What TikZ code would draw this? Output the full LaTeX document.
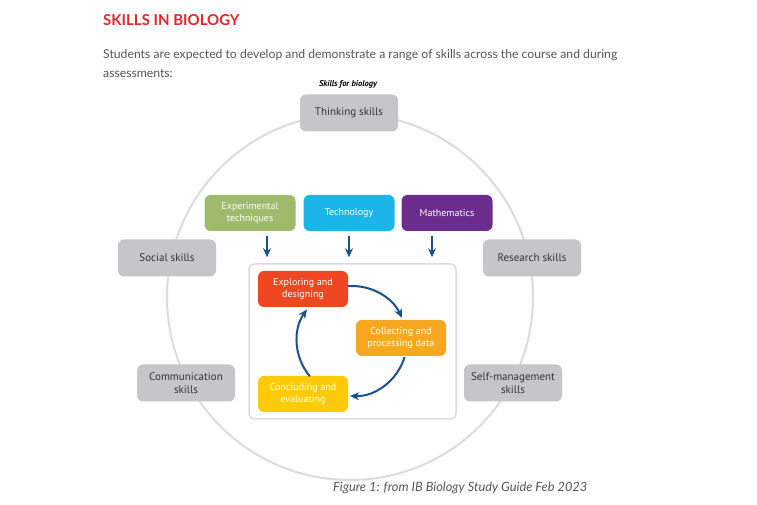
\documentclass[tikz,border=0pt]{standalone}
\usepackage{fontspec}
\setmainfont{Lato}
\newfontfamily\boxfont{PT Sans}
\usetikzlibrary{arrows.meta}

\definecolor{titlered}{HTML}{E5262A}
\definecolor{bodygray}{HTML}{555555}
\definecolor{skillgray}{HTML}{C6C6C9}
\definecolor{skilltext}{HTML}{333333}
\definecolor{ringgray}{HTML}{DCDCDC}
\definecolor{expgreen}{HTML}{9DBB6B}
\definecolor{techblue}{HTML}{1CB5EA}
\definecolor{mathpurple}{HTML}{6C2C8E}
\definecolor{explorered}{HTML}{F04723}
\definecolor{collectorange}{HTML}{F7A823}
\definecolor{concludeyellow}{HTML}{FFCB08}
\definecolor{arrowblue}{HTML}{1B4F8E}

\begin{document}
\begin{tikzpicture}[x=1pt, y=1pt]

	\tikzstyle{skill}=[rectangle, rounded corners=6pt, fill=skillgray, text=skilltext, minimum width=98pt, minimum height=37pt, align=center, font=\boxfont\fontsize{11}{12.5}\selectfont]
	\tikzstyle{tool}=[rectangle, rounded corners=6pt, text=white, minimum width=91pt, minimum height=36pt, align=center, font=\boxfont\fontsize{10}{11.5}\selectfont]
	\tikzstyle{stage}=[tool, minimum width=90pt]
	\tikzstyle{flow}=[-{Stealth[length=9pt, width=8pt]}, arrowblue, line width=2pt]

	\useasboundingbox[fill=white] (0, 0) rectangle (757, 505);

	\coordinate (title) at (103, 479);
	\coordinate (intro) at (103, 427);
	\coordinate (heading) at (348, 421);
	\coordinate (caption) at (333, 13);
	\coordinate (centre) at (350, 208); % CIRCLE
	\coordinate (cyc) at (352, 164); % CYCLE

	\coordinate (thinking) at (349, 392); % OUTER SKILLS
	\coordinate (social) at (167, 247); % OUTER SKILLS
	\coordinate (research) at (532, 247); % OUTER SKILLS
	\coordinate (communication) at (186, 122); % OUTER SKILLS
	\coordinate (selfman) at (513, 122); % OUTER SKILLS
	\coordinate (exper) at (250, 292); % TOOLS
	\coordinate (tech) at (349, 292); % TOOLS
	\coordinate (maths) at (447, 292); % TOOLS
	\coordinate (explore) at (303, 216); % INQUIRY
	\coordinate (collect) at (401, 167); % INQUIRY
	\coordinate (conclude) at (303, 111); % INQUIRY

	\node[anchor=base west, inner sep=0pt, text=titlered, font=\bfseries\fontsize{15}{17}\selectfont] (title) at (title) {SKILLS IN BIOLOGY};
	\node[anchor=base west, inner sep=0pt, text=bodygray, align=left, font=\fontsize{12.2}{19}\selectfont] (intro) at (intro) {Students are expected to develop and demonstrate a range of skills across the course and during\\assessments:};
	\node[text=black, font=\boxfont\bfseries\itshape\fontsize{8.5}{10}\selectfont] (heading) at (heading) {Skills for biology};
	\node[anchor=base west, inner sep=0pt, text=bodygray, font=\itshape\fontsize{12.8}{14}\selectfont] (caption) at (caption) {Figure 1: from IB Biology Study Guide Feb 2023};

	\draw[ringgray, line width=2pt] (centre) circle (183);

	\node[skill] (thinking) at (thinking) {Thinking skills};
	\node[skill] (social) at (social) {Social skills};
	\node[skill] (research) at (research) {Research skills};
	\node[skill] (communication) at (communication) {Communication\\skills};
	\node[skill] (selfman) at (selfman) {Self-management\\skills};

	\node[tool, fill=expgreen] (exper) at (exper) {Experimental\\techniques};
	\node[tool, fill=techblue] (tech) at (tech) {Technology};
	\node[tool, fill=mathpurple] (maths) at (maths) {Mathematics};

	\node[draw=ringgray, line width=1.5pt, fill=white, rounded corners=6pt, minimum width=207pt, minimum height=155pt] (inquiry) at (352.5, 163.5) {};

	\node[stage, fill=explorered] (explore) at (explore) {Exploring and\\designing};
	\node[stage, fill=collectorange] (collect) at (collect) {Collecting and\\processing data};
	\node[stage, fill=concludeyellow] (conclude) at (conclude) {Concluding and\\evaluating};

	\draw[flow] ([shift={(17, -5)}]exper.south) -- ([shift={(17, 6)}]exper.south |- inquiry.north);
	\draw[flow] ([yshift=-5]tech.south) -- ([yshift=6]tech.south |- inquiry.north);
	\draw[flow] ([shift={(-15, -5)}]maths.south) -- ([shift={(-15, 6)}]maths.south |- inquiry.north);

	\draw[flow] ([shift={(94:55)}]cyc) arc[start angle=94, end angle=25, radius=55];
	\draw[flow] ([shift={(-17:55)}]cyc) arc[start angle=-17, end angle=-92, radius=55];
	\draw[flow] ([shift={(220:55)}]cyc) arc[start angle=220, end angle=145, radius=55];
\end{tikzpicture}
\end{document}
